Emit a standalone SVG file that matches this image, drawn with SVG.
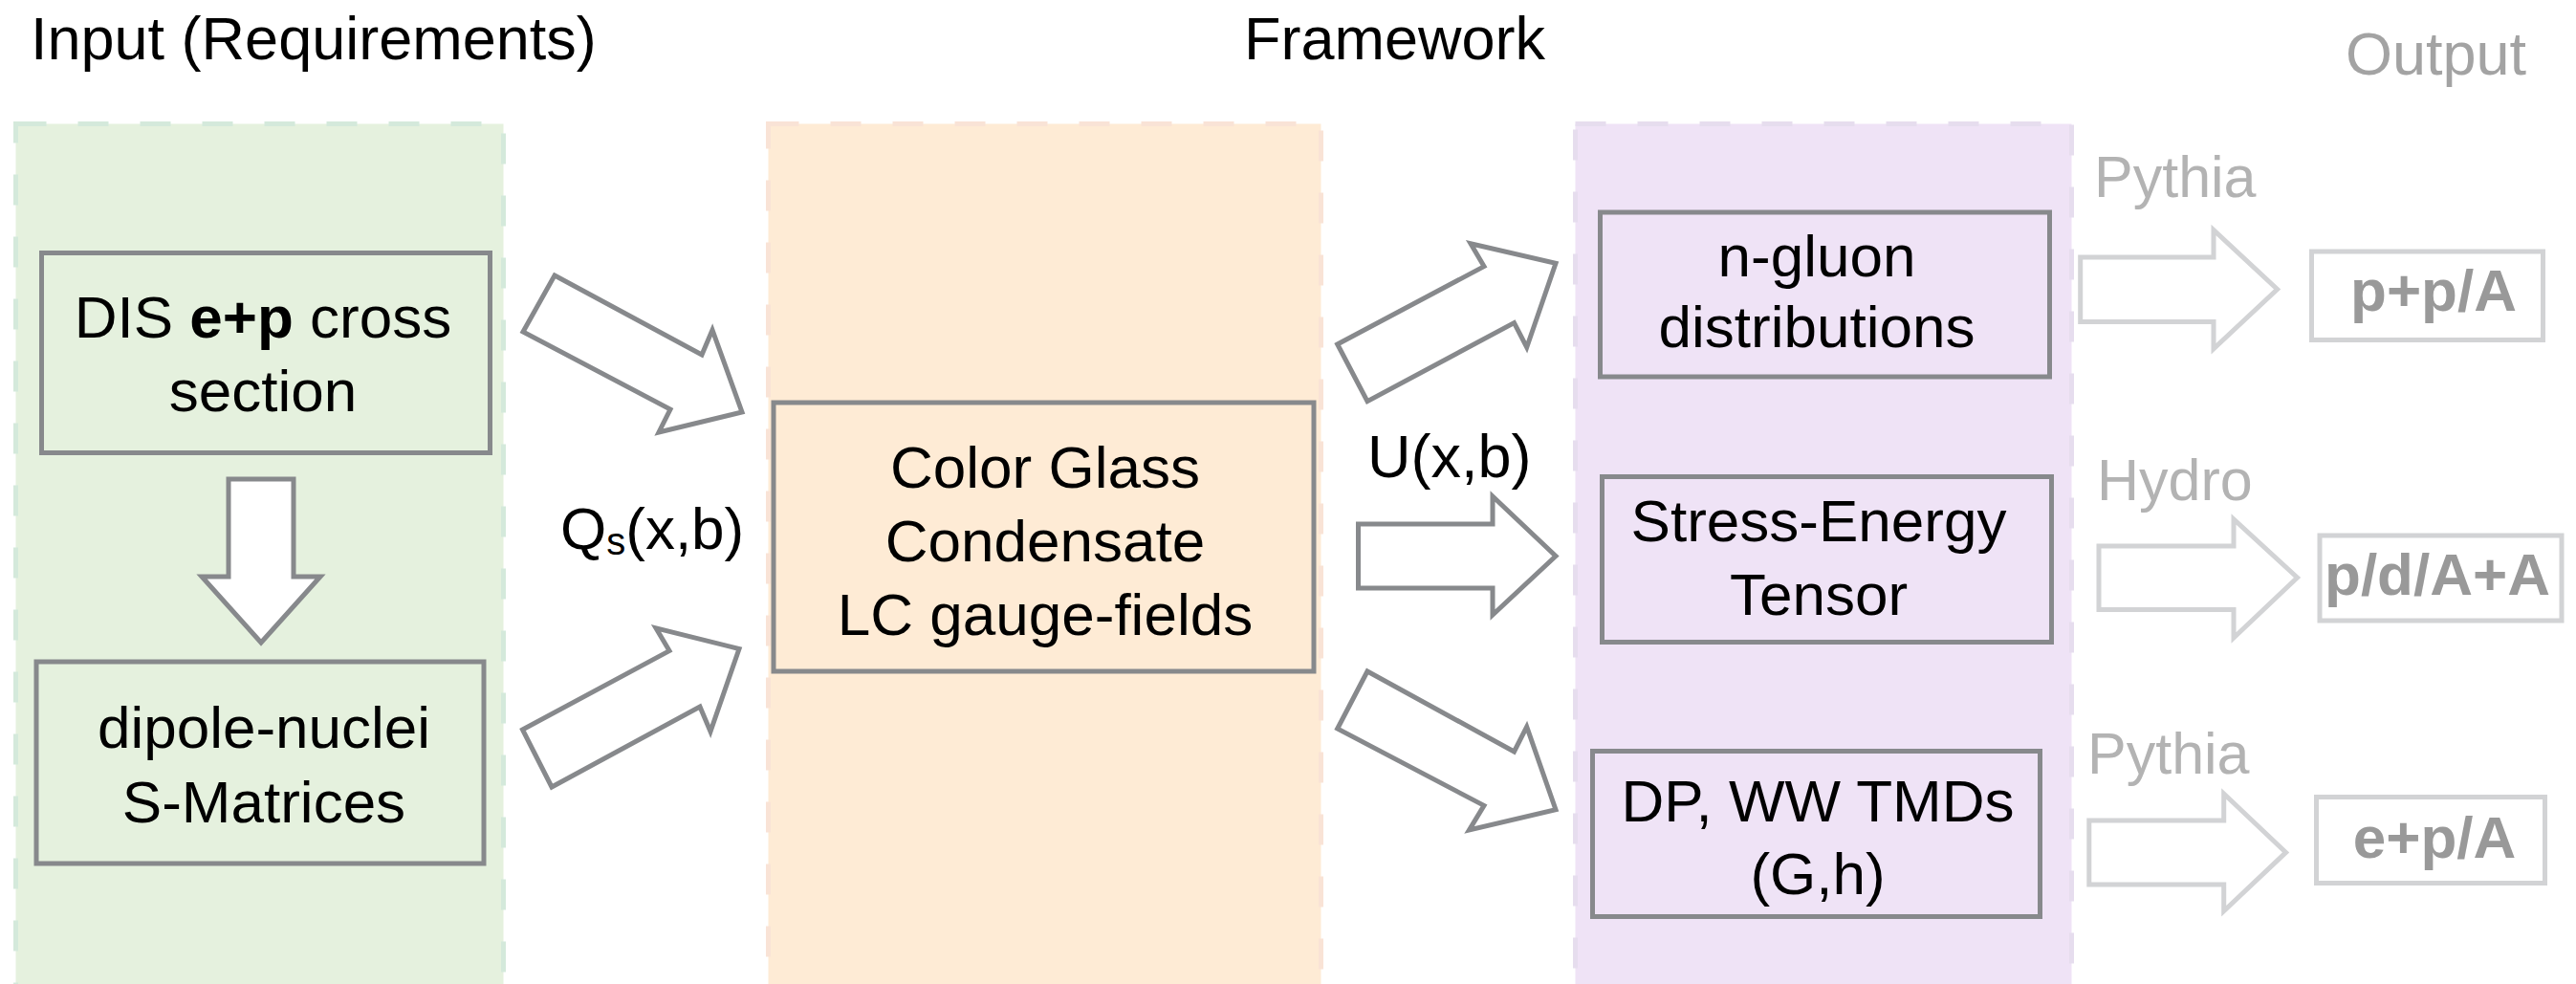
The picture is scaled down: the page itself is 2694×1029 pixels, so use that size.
<svg xmlns="http://www.w3.org/2000/svg" width="2694" height="1029" viewBox="0 0 2694 1029">
<style>
text{font-family:"Liberation Sans",Arial,sans-serif;}
.title{font-size:63px;fill:#000;}
.lbl{font-size:62px;fill:#000;text-anchor:middle;}
.node{stroke:#87898C;stroke-width:5;}
.panel{stroke-width:5;stroke-dasharray:32 33;}
.arr{fill:#fff;stroke:#87898C;stroke-width:5;stroke-linejoin:miter;}
.oarr{fill:#fff;stroke:#D2D3D5;stroke-width:5;}
.obox{fill:#fff;stroke:#D2D3D5;stroke-width:5;}
.otxt{font-size:62px;font-weight:bold;fill:#999;text-anchor:middle;}
.gray{font-size:61px;fill:#B3B3B3;}
</style>
<rect width="2694" height="1029" fill="#fff"/>
<g id="panels">
<rect class="panel" x="16.5" y="129.5" width="510" height="930" fill="#E5F1DE" stroke="#D4E9DB"/>
<rect class="panel" x="803.5" y="129.5" width="578" height="930" fill="#FEEBD5" stroke="#F9E3D6"/>
<rect class="panel" x="1647.5" y="129.5" width="519" height="930" fill="#EFE3F6" stroke="#E6DDEE"/>
</g>
<g id="titles">
<text class="title" x="32" y="62">Input (Requirements)</text>
<text class="title" x="1301" y="62">Framework</text>
<text class="title" x="2453" y="78" style="fill:#A3A3A3">Output</text>
</g>
<g id="connectors">
<polygon class="arr" points="580,288 734,371 745,345 776,431 689,452 701,428 547,347"/>
<polygon class="arr" points="546.5,763 700,680.6 686,656.8 773,678.5 743,765 732,739 577,823"/>
<polygon class="arr" points="239,501 307,501 307,603 335,603 273,672 211,603 239,603"/>
<polygon class="arr" points="1398.7,360 1552,278.6 1538,254.7 1627,275.3 1596.7,363.2 1583.5,337.6 1430,419.6"/>
<polygon class="arr" points="1420.5,548 1561,548 1561,519 1627,581.5 1561,643 1561,615 1420.5,615"/>
<polygon class="arr" points="1430,702 1583.5,786 1596.7,760 1627,846.6 1536.5,868 1552,842.4 1398.7,762"/>
<polygon class="oarr" points="2175.7,269 2315,269 2315,240.5 2381.6,302.5 2315,364.8 2315,336.6 2175.7,336.6"/>
<polygon class="oarr" points="2195,571 2336,571 2336,543 2402.5,604 2336,667 2336,637.6 2195,637.6"/>
<polygon class="oarr" points="2184.8,858 2325.7,858 2325.7,830 2390.6,891.4 2325.7,952.7 2325.7,925 2184.8,925"/>
<text x="586" y="574" style="font-size:62px;fill:#000">Q<tspan style="font-size:40px" dy="6">s</tspan><tspan dy="-6">(x,b)</tspan></text>
<text x="1430" y="499" style="font-size:63px;fill:#000">U(x,b)</text>
<text class="gray" x="2190" y="206">Pythia</text>
<text class="gray" x="2193" y="523">Hydro</text>
<text class="gray" x="2183" y="809">Pythia</text>
</g>
<g id="node-dis">
<rect class="node" x="43.5" y="264.5" width="469" height="209" fill="#E5F1DE"/>
<text class="lbl" x="275" y="353">DIS <tspan font-weight="bold">e+p</tspan> cross</text>
<text class="lbl" x="275" y="430">section</text>
</g>
<g id="node-dipole">
<rect class="node" x="38" y="692" width="468" height="211" fill="#E5F1DE"/>
<text class="lbl" x="276" y="782">dipole-nuclei</text>
<text class="lbl" x="276" y="860">S-Matrices</text>
</g>
<g id="node-cgc">
<rect class="node" x="809" y="421" width="565" height="281" fill="#FEEBD5"/>
<text class="lbl" x="1093" y="510">Color Glass</text>
<text class="lbl" x="1093" y="587">Condensate</text>
<text class="lbl" x="1093" y="664">LC gauge-fields</text>
</g>
<g id="node-ngluon">
<rect class="node" x="1673.5" y="222" width="470" height="172" fill="#EFE3F6"/>
<text class="lbl" x="1900" y="289">n-gluon</text>
<text class="lbl" x="1900" y="363">distributions</text>
</g>
<g id="node-stress">
<rect class="node" x="1675.5" y="498.5" width="470" height="173" fill="#EFE3F6"/>
<text class="lbl" x="1902" y="566">Stress-Energy</text>
<text class="lbl" x="1902" y="643">Tensor</text>
</g>
<g id="node-dp">
<rect class="node" x="1665.5" y="785.5" width="468" height="173" fill="#EFE3F6"/>
<text class="lbl" x="1901" y="859">DP, WW TMDs</text>
<text class="lbl" x="1901" y="935">(G,h)</text>
</g>
<g id="node-pp">
<rect class="obox" x="2417.5" y="263" width="242" height="92.5"/>
<text class="otxt" x="2545" y="325">p+p/A</text>
</g>
<g id="node-pdaa">
<rect class="obox" x="2426" y="560" width="253" height="89"/>
<text class="otxt" x="2549" y="622">p/d/A+A</text>
</g>
<g id="node-ep">
<rect class="obox" x="2422.5" y="833.5" width="239" height="90"/>
<text class="otxt" x="2546" y="897">e+p/A</text>
</g>
</svg>
